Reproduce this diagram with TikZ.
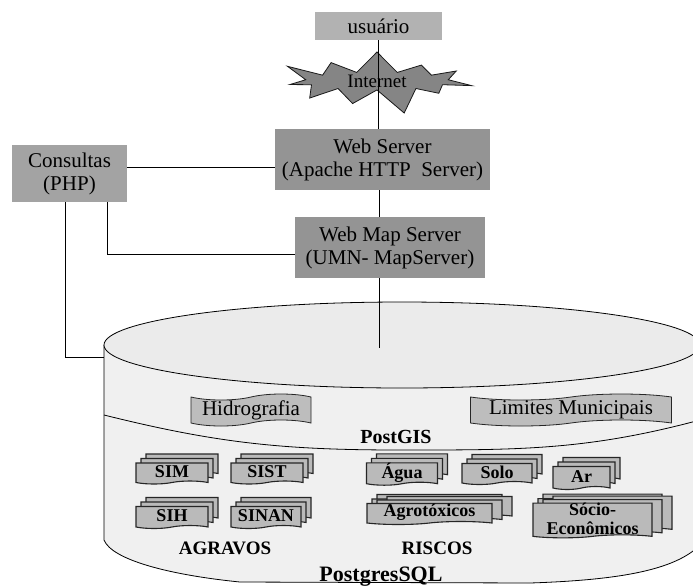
\documentclass[tikz,border=0pt]{standalone}
\usepackage{fontspec}
\setmainfont{Liberation Serif}
\usetikzlibrary{shapes.symbols,shadows}
\begin{document}
\begin{tikzpicture}[x=1pt,y=-1pt,
  box/.style={fill=black!42,align=center,font=\fontsize{21}{23}\selectfont},
  tapebox/.style={tape,draw=black!85,fill=black!26,font=\fontsize{21}{23}\selectfont,tape bend height=6pt,line width=0.8pt},
  docbox/.style={tape,tape bend top=none,tape bend height=3pt,draw=black!85,line width=1.1pt,fill=black!27,
    font=\bfseries\fontsize{18}{19}\selectfont,double copy shadow={shadow xshift=5pt,shadow yshift=4.5pt}},
  widedoc/.style={docbox,double copy shadow={shadow xshift=10pt,shadow yshift=3.5pt}},
  grouplabel/.style={font=\bfseries\fontsize{19}{21}\selectfont}]
\tikzstyle{every node}+=[inner sep=0pt]
\useasboundingbox (0,0) rectangle (693,587);
\fill [white] (0,0) rectangle (693,587);
\node [box,fill=black!30,minimum width=127pt,minimum height=28pt] (usuario) at (378.5,26) {usu\'ario};
\node [starburst,starburst points=11,starburst point height=28pt,draw=black!90,thick,fill=black!48,
  minimum width=200pt,minimum height=46pt,font=\fontsize{19}{21}\selectfont] (internet) at (377,81) {Internet};
\node [box,minimum width=215pt,minimum height=61pt] (webserver) at (382.5,159.5) {Web Server\\(Apache HTTP\ \ Server)};
\node [box,minimum width=190pt,minimum height=61pt] (webmap) at (390,247.5) {Web Map Server\\(UMN- MapServer)};
\node [box,fill=black!36,minimum width=115pt,minimum height=57pt] (consultas) at (69.5,173.5) {Consultas\\(PHP)};
\draw [thick,fill=black!6] (104,345) -- (104,540) .. controls (112,560) and (170,575) .. (240,582)
  -- (530,583) .. controls (620,580) and (675,570) .. (700,545) -- (700,345);
\draw [thick,fill=black!8] (402,345) ellipse [x radius=298pt,y radius=43pt];
\coordinate (dbtop) at (379,348);
\coordinate (dbleft) at (104,357);
\coordinate (gisleft) at (104,415);
\coordinate (gismid) at (400,450);
\coordinate (gisright) at (700,420);
\draw [thick] (gisleft) to[out=-14,in=180] (gismid) to[out=0,in=-165] (gisright);
\node [tapebox,minimum width=120pt,minimum height=32pt] (hidro) at (251,410) {Hidrografia};
\node [tapebox,minimum width=201pt,minimum height=32pt] (limites) at (571,410) {Limites Municipais};
\node [grouplabel,font=\bfseries\fontsize{20}{22}\selectfont] (postgis) at (396,437) {PostGIS};
\node [docbox,minimum width=72pt,minimum height=21pt] (sim) at (172,472) {SIM};
\node [docbox,minimum width=72pt,minimum height=21pt] (sist) at (267,472) {SIST};
\node [docbox,minimum width=72pt,minimum height=22pt] (sih) at (172,516) {SIH};
\node [docbox,minimum width=70pt,minimum height=22pt] (sinan) at (266,516) {SINAN};
\node [docbox,minimum width=71pt,minimum height=21pt] (agua) at (402,472.5) {\'Agua};
\node [docbox,minimum width=70pt,minimum height=21pt] (solo) at (497,472.5) {Solo};
\node [docbox,minimum width=57pt,minimum height=23pt] (ar) at (581.5,476.5) {Ar};
\node [widedoc,minimum width=125pt,minimum height=21pt] (agrotoxicos) at (429.5,512.5) {Agrot\'oxicos};
\node [widedoc,minimum width=119pt,minimum height=32pt,align=center] (socio) at (592.5,519) {S\'ocio-\\Econ\^omicos};
\node [grouplabel] (agravos) at (225,548) {AGRAVOS};
\node [grouplabel] (riscos) at (437,548) {RISCOS};
\node [grouplabel,font=\bfseries\fontsize{22}{24}\selectfont] (postgres) at (381,577) {PostgresSQL};
\draw [thick] (usuario.south) -- (usuario.south |- webserver.north);
\draw [thick] (webserver.south -| dbtop) -- (webmap.north -| dbtop);
\draw [thick] (webmap.south -| dbtop) -- (dbtop);
\draw [thick] ([yshift=6.5pt]consultas.east) -- ([yshift=6.5pt]consultas.east -| webserver.west);
\draw [thick] ([xshift=37.5pt]consultas.south) |- ([yshift=-6.5pt]webmap.west);
\draw [thick] ([xshift=-4.5pt]consultas.south) |- (dbleft);
\end{tikzpicture}
\end{document}
